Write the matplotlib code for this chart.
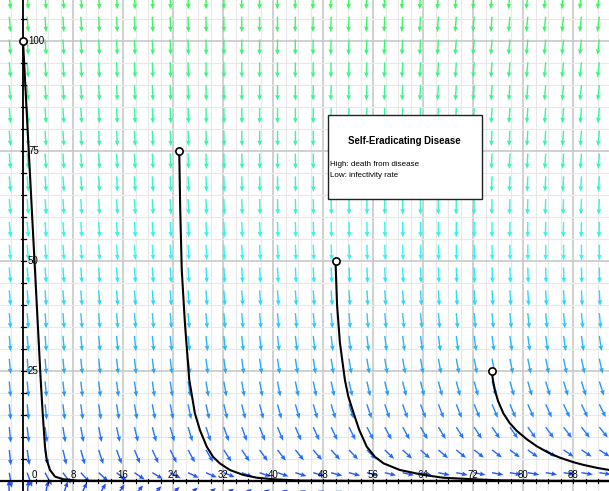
import numpy as np
import matplotlib
matplotlib.use("Agg")
import matplotlib.pyplot as plt
import colorsys
from matplotlib.patches import Rectangle

# ---------------- data ----------------
x_ticks = [8, 16, 24, 32, 40, 48, 56, 64, 72, 80, 88]
y_ticks = [25, 50, 75, 100]

start_x = [0, 25, 50, 75]
start_y = [100, 75, 50, 25]

curve1_x = [0.0, 0.92, 1.84, 2.83, 3.15, 3.52, 3.79, 4.32, 5.12, 6.45, 8.6, 12, 20, 40, 94]
curve1_y = [100, 75.0, 50.0, 23.0, 15.4, 7.8, 4.8, 2.5, 1.0, 0.4, 0.12, 0.04, 0.01, 0.0, 0.0]

curve2_x = [25.0, 25.15, 25.4, 25.9, 26.6, 27.5, 28.3, 29.4, 30.4, 31.5, 33.1, 35.2, 37.4, 40.0, 44.3, 55, 94]
curve2_y = [75.0, 62.0, 48.0, 36.0, 23.0, 15.4, 11.6, 7.8, 5.5, 4.0, 2.5, 1.4, 0.75, 0.4, 0.1, 0.02, 0.0]

curve3_x = [50.0, 50.25, 50.7, 51.5, 52.05, 52.9, 53.8, 55.0, 56.3, 57.7, 60.3, 64.0, 67.2, 72.0, 76.3, 85, 94]
curve3_y = [50.0, 40.0, 31.5, 23.0, 19.2, 15.4, 11.6, 7.8, 5.5, 4.0, 2.5, 1.4, 0.75, 0.4, 0.15, 0.03, 0.0]

curve4_x = [75.0, 75.2, 75.55, 76.0, 76.85, 77.85, 79.0, 80.6, 82.2, 84.1, 85.9, 88.0, 89.7, 91.8, 94.0]
curve4_y = [25.0, 22.8, 20.4, 18.2, 15.4, 13.2, 11.4, 9.5, 7.9, 6.4, 5.3, 4.3, 3.65, 3.0, 2.45]

# direction field model (slope field of the system)
field_a, field_r, field_d, field_b, field_c = 0.31, 0.094, 0.05, 0.0024, 1.0

title_text = "Self-Eradicating Disease"
body_lines = ["High: death from disease", "Low: infectivity rate"]

FONT = ["Liberation Sans Narrow", "Liberation Sans", "DejaVu Sans"]

# ---------------- figure ----------------
W, H = 609, 491
fig = plt.figure(figsize=(W / 100, H / 100), dpi=100)
ax = fig.add_axes([0, 0, 1, 1])
PX_X, PX_Y = 6.25, 4.4          # pixels per data unit
X0PX, Y0PX = 23, 481            # pixel position of origin
xmin, xmax = -X0PX / PX_X, (W - X0PX) / PX_X
ymin, ymax = -(H - Y0PX) / PX_Y, Y0PX / PX_Y
ax.set_xlim(xmin, xmax)
ax.set_ylim(ymin, ymax)
ax.axis("off")
fig.patch.set_facecolor("white")

# grid
for gx in np.arange(-2, 94, 2):
    major = (gx % 8 == 0)
    ax.axvline(gx, color="#c4c4c4" if major else "#e8e8e8", lw=1.1 if major else 0.8, zorder=0)
for gy in np.arange(5, 110, 5):
    major = (gy % 25 == 0)
    ax.axhline(gy, color="#c4c4c4" if major else "#e8e8e8", lw=1.1 if major else 0.8, zorder=0)

# direction field
col_px = 9.3 + 17.88 * np.arange(34)
row_px = 16.7 + 22.8 * np.arange(-1, 22)
XX = (col_px - X0PX) / PX_X
YY = (Y0PX - row_px) / PX_Y
X, Y = np.meshgrid(XX, YY)
dS = field_a + field_r * X + field_d * Y - field_b * X * Y
dI = -field_c * Y
upx = dS * PX_X
vpx = dI * PX_Y
n = np.hypot(upx, vpx)
upx, vpx = upx / n, vpx / n
L = 11.5 + 4.0 * np.abs(vpx) ** 3
U = upx * L / PX_X
V = vpx * L / PX_Y
cols = []
for yv in Y.ravel():
    t = np.clip(yv / 100.0, -0.1, 1.1)
    h = (226 - 86 * t) / 360.0
    s = 0.86 - 0.10 * t
    cols.append(colorsys.hsv_to_rgb(h, s, 0.96))
ax.quiver(X.ravel(), Y.ravel(), U.ravel(), V.ravel(), color=cols,
          angles="xy", scale_units="xy", scale=1, pivot="tail",
          width=0.0023, headwidth=3.4, headlength=4.0, headaxislength=3.6, zorder=2)

# axes lines
ax.axvline(0, color="black", lw=1.3, zorder=3)
ax.axhline(0, color="black", lw=1.6, zorder=3)
for ty in np.arange(5, 110, 5):
    ax.plot([-2.5 / PX_X, 2.5 / PX_X], [ty, ty], color="black", lw=0.9, zorder=3)
for tx in np.arange(2, 94, 2):
    ax.plot([tx, tx], [-2.0 / PX_Y, 2.0 / PX_Y], color="black", lw=0.8, zorder=3)

# tick labels
for t in y_ticks:
    ax.text(5 / PX_X, t, str(t), fontsize=7, ha="left", va="center", family=FONT, zorder=4)
ax.text(11.3 / PX_X, 6 / PX_Y, "0", fontsize=7, ha="center", va="center", family=FONT, zorder=4)
for t in x_ticks:
    ax.text(t, 6 / PX_Y, str(t), fontsize=7, ha="center", va="center", family=FONT, zorder=4)

# solution curves
for cx, cy in [(curve1_x, curve1_y), (curve2_x, curve2_y), (curve3_x, curve3_y), (curve4_x, curve4_y)]:
    ax.plot(cx, cy, color="black", lw=1.5, zorder=5, solid_capstyle="round", solid_joinstyle="round")
ax.plot(start_x, start_y, "o", ms=5.2, mfc="white", mec="black", mew=1.2, ls="none", zorder=6)

# text box (figure pixel coordinates)
def fx(p):
    return p / W
def fy(p):
    return 1 - p / H
box = Rectangle((fx(328), fy(199)), fx(482) - fx(328), fy(115) - fy(199), transform=fig.transFigure,
                facecolor="white", edgecolor="#222222", lw=1.0, zorder=7)
fig.patches.append(box)
fig.text(fx(404), fy(141), title_text, fontsize=6.9, fontweight="bold", ha="center", va="center",
         family=FONT, zorder=8)
fig.text(fx(330), fy(164), body_lines[0], fontsize=5.8, ha="left", va="center", family=FONT, zorder=8)
fig.text(fx(330), fy(176), body_lines[1], fontsize=5.8, ha="left", va="center", family=FONT, zorder=8)

fig.savefig("out.png", dpi=100, facecolor="white")
